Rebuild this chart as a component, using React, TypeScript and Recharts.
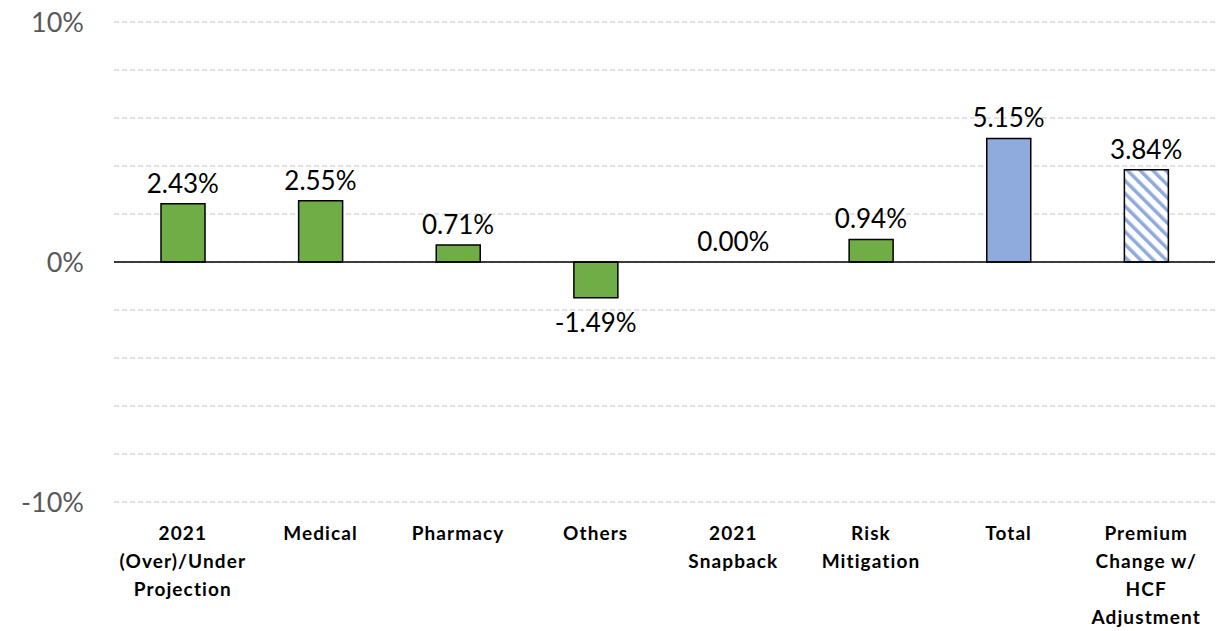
import React from 'react';
import { ComposedChart, Bar, Line, XAxis, YAxis, CartesianGrid, ReferenceLine, Cell, LabelList } from 'recharts';

const categories = [
  '2021\n(Over)/Under\nProjection',
  'Medical',
  'Pharmacy',
  'Others',
  '2021\nSnapback',
  'Risk\nMitigation',
  'Total',
  'Premium\nChange w/\nHCF\nAdjustment',
];
const values = [2.43, 2.55, 0.71, -1.49, 0.0, 0.94, 5.15, 3.84];
const barKinds = ['green', 'green', 'green', 'green', 'green', 'green', 'blue', 'hatch'];
const yTicks = [-10, -8, -6, -4, -2, 0, 2, 4, 6, 8, 10];
const yLabeled = [-10, 0, 10];

const data = categories.map((c, i) => ({ name: c, value: values[i], kind: barKinds[i] }));

const fillFor = (k: string) =>
  k === 'green' ? '#70AD47' : k === 'blue' ? '#8FAADC' : 'url(#hatch)';

const LABEL_FONT = 'Lato, "Open Sans", sans-serif';

const CategoryTick = (props: any) => {
  const { x, y, payload } = props;
  const lines = String(payload.value).split('\n');
  return (
    <g transform={`translate(${x},${y})`}>
      <text
        textAnchor="middle"
        fontFamily={LABEL_FONT}
        fontWeight={700}
        fontSize={19}
        letterSpacing={1.1}
        fill="#000"
      >
        {lines.map((l, i) => (
          <tspan key={i} x={0} dy={i === 0 ? 30 : 28}>
            {l}
          </tspan>
        ))}
      </text>
    </g>
  );
};

const ValueLabel = (props: any) => {
  const { x, y, value } = props;
  const ty = value >= 0 ? y - 11 : y + 34;
  return (
    <text x={x} y={ty} textAnchor="middle" fontFamily={LABEL_FONT} fontSize={26} fill="#000">
      {Number(value).toFixed(2) + '%'}
    </text>
  );
};

export default function App() {
  return (
    <div style={{ position: 'absolute', left: 0, top: 0, background: '#fff' }}>
      <ComposedChart
        width={1223}
        height={631}
        data={data}
        margin={{ top: 22, right: 8, bottom: 0, left: 0 }}
      >
        <defs>
          <pattern
            id="hatch"
            patternUnits="userSpaceOnUse"
            width={9}
            height={9}
            patternTransform="rotate(-45)"
          >
            <rect width={9} height={9} fill="#fff" />
            <rect x={0} y={0} width={3.5} height={9} fill="#8FAADC" />
          </pattern>
        </defs>
        <CartesianGrid
          vertical={false}
          stroke="#D9D9D9"
          strokeDasharray="5 3"
          strokeWidth={1.3}
        />
        <XAxis
          dataKey="name"
          axisLine={false}
          tickLine={false}
          height={129}
          interval={0}
          tick={<CategoryTick />}
        />
        <YAxis
          width={114}
          domain={[-10, 10]}
          ticks={yTicks}
          axisLine={false}
          tickLine={false}
          tickSize={0}
          tickMargin={30}
          tick={{ fontFamily: LABEL_FONT, fontSize: 27, fill: '#595959' }}
          tickFormatter={(v: number) => (yLabeled.includes(v) ? `${v}%` : '')}
        />
        <Bar dataKey="value" barSize={44} stroke="#000" strokeWidth={1.5} isAnimationActive={false}>
          {data.map((d, i) => (
            <Cell key={i} fill={fillFor(d.kind)} />
          ))}
        </Bar>
        <ReferenceLine y={0} stroke="#000" strokeWidth={1.5} />
        <Line
          dataKey="value"
          stroke="none"
          dot={false}
          activeDot={false}
          legendType="none"
          isAnimationActive={false}
        >
          <LabelList dataKey="value" content={<ValueLabel />} />
        </Line>
      </ComposedChart>
    </div>
  );
}
